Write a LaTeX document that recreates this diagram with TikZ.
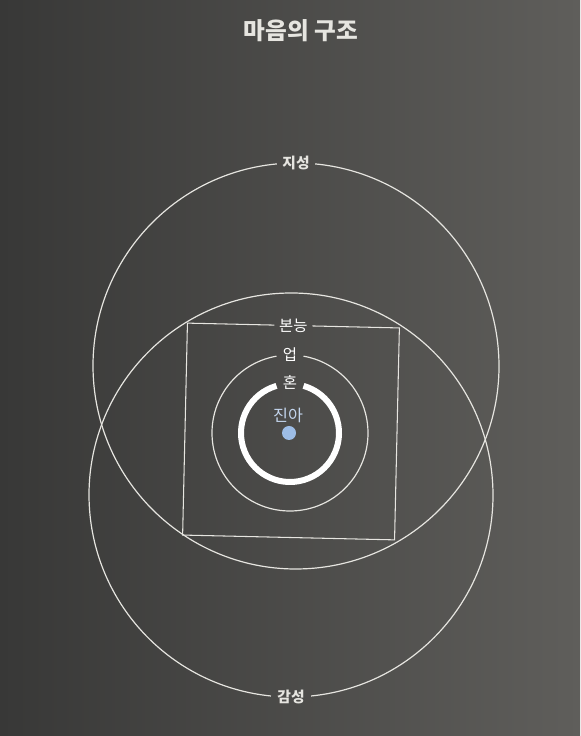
\documentclass[tikz,border=0pt]{standalone}
\usepackage{fontspec}
\setmainfont{Noto Sans CJK KR}
\definecolor{bgdark}{HTML}{383837}
\definecolor{bgmid}{HTML}{4E4E4C}
\definecolor{bglight}{HTML}{5F5E5B}
\definecolor{ln}{HTML}{E6E5E0}
\definecolor{jina}{HTML}{C4D6EE}
\definecolor{dot}{HTML}{9DBDE6}
\tikzset{
  ring/.style={draw=ln, line width=0.85pt},
  lbl/.style={text=ln, font=\fontsize{10.5}{12}\selectfont\bfseries, inner sep=0pt},
  inlbl/.style={text=white, font=\fontsize{11}{12}\selectfont, inner sep=0pt},
}

\begin{document}
\begin{tikzpicture}[x=0.025cm, y=0.025cm]
\shade[left color=bgdark, middle color=bgmid, right color=bglight] (0,0) rectangle (580,736);
\useasboundingbox (0,0) rectangle (580,736);
\node[text=ln, font=\fontsize{16.8}{18}\selectfont\bfseries, inner sep=0pt] (title) at (301,705) {마음의 구조};
\draw[ring] (296,370) ++(95.4:203) arc[start angle=95.4, end angle=444.6, radius=203];
\node[lbl] (jiseong) at (296,573) {지성};
\draw[ring] (291,241) ++(-84.3:202) arc[start angle=-84.3, end angle=264.3, radius=202];
\node[lbl] (gamseong) at (291,39) {감성};
\begin{scope}[shift={(291,304.5)}, rotate=-1.3]
\draw[draw=ln, line width=0.75pt] (-19,106) -- (-106,106) -- (-106,-106) -- (106,-106) -- (106,106) -- (19,106);
\node[inlbl] (bonneung) at (0,106) {본능};
\end{scope}
\draw[ring] (290,303) ++(100:78) arc[start angle=100, end angle=440, radius=78];
\node[inlbl] (eop) at (290,381) {업};
\draw[draw=white, line width=0.15cm] (290,303) ++(106:49) arc[start angle=106, end angle=434, radius=49];
\node[inlbl] (hon) at (290,354) {혼};
\node[text=jina, font=\fontsize{11.5}{13}\selectfont, inner sep=0pt] (jina) at (288,321) {진아};
\fill[dot] (289,303) circle[radius=7];
\end{tikzpicture}
\end{document}
